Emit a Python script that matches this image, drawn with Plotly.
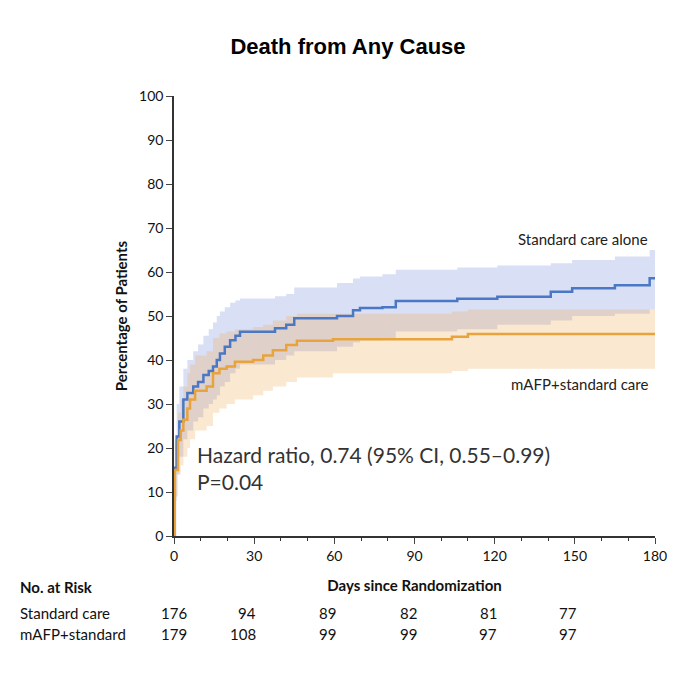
import plotly.graph_objects as go

# Standard care alone (step curve)
std_days = [0, 0.3, 1, 2, 3.5, 5, 7.2, 9, 11, 13, 14.6, 16, 17.2, 19, 21, 23, 24.7, 37.8, 42, 45, 61, 67, 69.6, 78, 83, 106, 121, 141, 149, 165, 178, 180]
std_pct = [0, 15.5, 22.6, 26, 31, 32.5, 34, 35, 36.6, 37.5, 38.5, 40, 41.5, 43, 44.5, 45.5, 46.4, 47.2, 48, 49.5, 50, 51.3, 51.8, 52, 53.4, 53.9, 54.4, 55.5, 56.3, 57, 58.6, 58.6]
std_lo = [0, 8, 14, 18, 22, 24, 26, 27, 29, 30, 31, 32, 34, 35, 37, 38, 39, 40, 41, 42, 43, 44, 44.5, 45, 46.5, 47, 48, 49, 50, 50.5, 51.5, 51.5]
std_hi = [0, 22, 30, 34, 38, 40, 42, 43.5, 45.5, 47, 48.5, 50, 51, 52, 53, 53.5, 54, 54.5, 55, 56.5, 57.5, 58.5, 59, 59.5, 60.5, 61, 61.5, 62, 62.7, 63.5, 65, 65]

# mAFP + standard care (step curve)
maf_days = [0, 0.3, 1.5, 2.5, 3.5, 5, 6, 7.9, 12.2, 14.6, 17, 19.7, 22.8, 29.6, 33.4, 37, 42, 46, 59.5, 104, 110, 180]
maf_pct = [0, 15, 21.8, 24, 26.4, 29, 31, 33, 34, 37, 38, 38.5, 39.6, 40, 41, 42.2, 43.4, 44.4, 44.7, 45.3, 45.9, 45.9]
maf_lo = [0, 9, 14, 16, 18, 20, 22, 24, 25, 28, 29, 30, 31, 32, 33, 34, 35, 36, 37, 37.5, 38, 38]
maf_hi = [0, 21, 28, 31, 34, 37, 39, 41, 42, 45, 46, 46.5, 47, 47.5, 48, 49, 50, 50.5, 50.5, 51, 51.5, 52.5]

risk_days = [0, 30, 60, 90, 120, 150, 180]
risk_std = [176, 94, 89, 82, 81, 77, 72]
risk_maf = [179, 108, 99, 99, 97, 97, 97]

BLUE = "#4a78c4"
ORANGE = "#e8a33d"

fig = go.Figure()
for days, lo, hi, col in [(std_days, std_lo, std_hi, "rgba(120,140,220,0.28)"),
                          (maf_days, maf_lo, maf_hi, "rgba(240,180,100,0.30)")]:
    fig.add_trace(go.Scatter(x=days, y=hi, mode="lines", line=dict(width=0, shape="hv"),
                             hoverinfo="skip", showlegend=False))
    fig.add_trace(go.Scatter(x=days, y=lo, mode="lines", line=dict(width=0, shape="hv"),
                             fill="tonexty", fillcolor=col, hoverinfo="skip", showlegend=False))
fig.add_trace(go.Scatter(x=std_days, y=std_pct, mode="lines", line=dict(color=BLUE, width=2.5, shape="hv"), showlegend=False))
fig.add_trace(go.Scatter(x=maf_days, y=maf_pct, mode="lines", line=dict(color=ORANGE, width=2.5, shape="hv"), showlegend=False))

font = "Lato, Open Sans, sans-serif"
fig.add_annotation(x=178, y=67.5, text="Standard care alone", showarrow=False, xanchor="right",
                   font=dict(family=font, size=15, color="#222"))
fig.add_annotation(x=178, y=34.5, text="mAFP+standard care", showarrow=False, xanchor="right",
                   font=dict(family=font, size=15, color="#222"))
fig.add_annotation(x=8, y=9, text="Hazard ratio, 0.74 (95% CI, 0.55–0.99)<br>P=0.04", showarrow=False,
                   xanchor="left", yanchor="bottom", align="left",
                   font=dict(family=font, size=21, color="#333"))

# Number at risk table
LX = -0.324
fig.add_annotation(xref="paper", yref="paper", x=LX, y=-0.141, text="<b>No. at Risk</b>", showarrow=False,
                   xanchor="left", font=dict(family=font, size=15, color="#111"))
for lbl, vals, yy in [("Standard care", risk_std, -0.2), ("mAFP+standard", risk_maf, -0.248)]:
    fig.add_annotation(xref="paper", yref="paper", x=LX, y=yy, text=lbl, showarrow=False,
                       xanchor="left", font=dict(family=font, size=15, color="#111"))
    for d, v in zip(risk_days, vals):
        fig.add_annotation(xref="x", yref="paper", x=d + (1.5 if d > 0 else 0), y=yy, text=str(v), showarrow=False,
                           xanchor="right" if d > 0 else "center",
                           font=dict(family=font, size=15, color="#111"))

fig.update_layout(
    width=680, height=680, plot_bgcolor="white", paper_bgcolor="white",
    margin=dict(l=166, r=33, t=88, b=152),
    title=dict(text="<b>Death from Any Cause</b>", x=0.5, y=0.955, xanchor="center",
               font=dict(family="Liberation Sans, Arial", size=22, color="black")),
    xaxis=dict(range=[0, 180], tickvals=risk_days, ticks="outside", ticklen=6, showline=True,
               linecolor="#333", linewidth=1.5, showgrid=False, zeroline=False,
               minor=dict(dtick=10, ticks="outside", ticklen=3, tickcolor="#333"),
               tickfont=dict(family=font, size=14, color="#111"),
               title=dict(text="<b>Days since Randomization</b>", font=dict(family=font, size=15, color="#111"), standoff=18)),
    yaxis=dict(range=[0, 100], dtick=10, ticks="outside", ticklen=6, showline=True,
               linecolor="#333", linewidth=1.5, showgrid=False, zeroline=False,
               tickfont=dict(family=font, size=14, color="#111"),
               title=dict(text="<b>Percentage of Patients</b>", font=dict(family=font, size=15, color="#111"), standoff=8)),
)
fig.write_html("out.html")
